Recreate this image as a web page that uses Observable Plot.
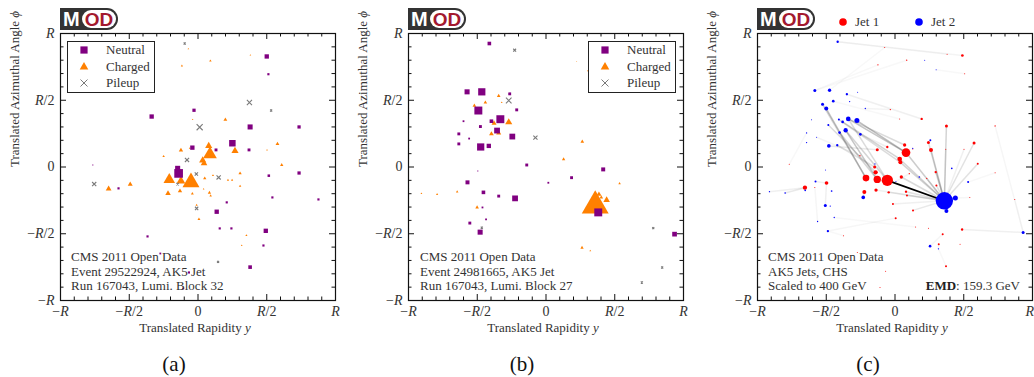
<!DOCTYPE html>
<html>
<head>
<meta charset="utf-8">
<script src="https://cdn.jsdelivr.net/npm/d3@7"></script>
<script src="https://cdn.jsdelivr.net/npm/@observablehq/plot@0.6"></script>
<style>
html,body{margin:0;padding:0;background:#fff}
#page{position:relative;width:1034px;height:377px;overflow:hidden;font-family:"Liberation Serif","Times New Roman",serif;color:#333}
.panel{position:absolute;top:0}
.logo{position:absolute;top:8px;width:58px;height:22px;background:#333;border-radius:0 11px 11px 0;font-family:"Liberation Sans",Arial,sans-serif;font-weight:bold;font-size:20px;line-height:22px}
.logo .m{position:absolute;left:3px;top:0;color:#fff}
.logo .od{position:absolute;left:22px;top:2px;width:34px;height:18px;border-radius:9px;background:#fff;color:#a3192f;font-size:19px;line-height:19px;text-align:center}
.note{position:absolute;font-size:13px;line-height:14.5px;white-space:nowrap;color:#333}
.cap{position:absolute;font-size:21px;top:352px;width:60px;text-align:center;color:#111}
.legbox{position:absolute;background:#fff;border:1.3px solid #222;box-sizing:border-box}
</style>
</head>
<body>
<div id="page"></div>
<script>
// ---------- axis ticks ----------
const tickValues = [-1, -0.5, 0, 0.5, 1];
const tickLabels = ["−R", "−R/2", "0", "R/2", "R"];
const minorTickValues = [-0.9,-0.8,-0.7,-0.6,-0.4,-0.3,-0.2,-0.1,0.1,0.2,0.3,0.4,0.6,0.7,0.8,0.9];
const xAxisLabel = "Translated Rapidity y";
const yAxisLabel = "Translated Azimuthal Angle ϕ";
const typeLabels = ["Neutral", "Charged", "Pileup"];
const jetLabels = ["Jet 1", "Jet 2"];

// ---------- panel (a): event 29522924 ----------
const aNeutralRap = [0.500,0.512,-0.337,-0.029,0.379,0.735,0.250,-0.041,0.131,0.371,-0.765,-0.148,-0.141,0.515,0.735,-0.578,0.541,0.876,0.209,0.136,0.158,0.243,0.493,-0.367,0.476,0.379,-0.066,-0.274,-0.107];
const aNeutralPhi = [0.828,0.695,0.378,0.425,0.300,0.300,0.178,0.145,0.128,0.128,0.015,-0.010,-0.048,-0.065,-0.045,-0.160,-0.228,-0.243,-0.265,-0.335,-0.460,-0.460,-0.478,-0.520,-0.588,-0.750,-0.790,-0.648,-0.910];
const aNeutralPt  = [12,6,12,9,14,9,18,12,8,8,3,14,24,7,9,6,6,6,6,12,6,6,12,6,6,10,6,5,5];

const aChargedRap = [-0.070,0.381,0.090,-0.117,-0.039,0.199,0.578,0.502,0.609,-0.124,-0.061,-0.250,0.078,0.087,0.269,0.034,0.044,-0.209,-0.124,-0.051,-0.650,-0.493,-0.218,-0.131,-0.041,0.049,0.109,0.218,0.248,0.306,0.306,0.041,0.083,0.092,-0.010,0.007,0.352,0.318];
const aChargedPhi = [0.885,0.838,0.795,0.758,0.355,0.355,0.173,0.128,0.015,0.125,0.140,0.080,0.158,0.095,0.120,0.050,0.028,-0.095,-0.105,-0.115,-0.163,-0.130,-0.198,-0.180,-0.200,-0.085,-0.063,-0.098,-0.098,-0.048,-0.143,-0.165,-0.193,-0.215,-0.285,-0.390,-0.513,-0.588];
const aChargedPt  = [3,3,4.5,4,3,7,7,3,6,8,3,4.5,13,25,13,13,12,21,16,31,10.5,9,10,8,5.3,6,4,4,4,6,4.5,3,6,4.5,4,5.3,4,3];

const aPileupRap = [-0.097,0.374,0.532,0.012,-0.080,0.150,-0.755,-0.012,-0.148,-0.010,0.146];
const aPileupPhi = [0.925,0.483,0.423,0.298,0.053,-0.078,-0.128,-0.053,-0.128,-0.310,-0.710];
const aPileupPt  = [5,12,5,14,10,10,10,8,6,8,5];

const aNotes = ["CMS 2011 Open Data", "Event 29522924, AK5 Jet", "Run 167043, Lumi. Block 32"];

// ---------- panel (b): event 24981665 ----------
const bNeutralRap = [-0.412,-0.574,-0.467,-0.264,-0.213,-0.492,-0.600,-0.397,-0.332,-0.477,-0.356,-0.634,-0.559,-0.245,-0.634,-0.475,-0.416,-0.140,-0.496,-0.571,0.017,0.186,0.416,-0.455,-0.344,-0.225,-0.462,-0.436,-0.554,-0.479,0.380,0.935];
const bNeutralPhi = [0.925,0.563,0.563,0.548,0.428,0.423,0.343,0.343,0.358,0.303,0.273,0.248,0.213,0.228,0.173,0.150,0.158,0.015,-0.030,-0.115,-0.118,-0.080,-0.018,-0.190,-0.218,-0.235,-0.303,-0.393,-0.420,-0.488,-0.340,-0.503];
const bNeutralPt  = [10,14,20,8,8,22,5,10,22,8,16,8,5,16,8,20,12,8,3,11,5,8,11,10,8,16,5,5,8,14,22,13];

const bChargedRap = [0.223,0.303,-0.344,-0.441,-0.521,-0.322,-0.271,-0.378,-0.397,-0.344,0.264,0.128,0.535,-0.906,-0.792,-0.646,-0.501,0.358,0.385,0.402,0.441,0.262,0.322];
const bChargedPhi = [0.788,0.720,0.533,0.483,0.460,0.483,0.335,0.328,0.248,0.255,0.190,0.058,-0.123,-0.198,-0.205,-0.185,-0.303,-0.290,-0.205,-0.228,-0.248,-0.605,-0.628];
const bChargedPt  = [2,2.5,6.6,6.6,6.6,3.3,13,9.2,8.6,9.2,6.6,6,4.6,3.3,4,4.6,6.6,49,9.2,6.6,11.8,6,3.3];

const bPileupRap = [-0.228,-0.271,-0.077,-0.467,0.780,0.845,0.697];
const bPileupPhi = [0.875,0.498,0.220,-0.455,-0.458,-0.753,-0.865];
const bPileupPt  = [7,13,10,5,5,5,5];

const bNotes = ["CMS 2011 Open Data", "Event 24981665, AK5 Jet", "Run 167043, Lumi. Block 27"];

// ---------- panel (c): two jets with EMD flows ----------
const jet1Rap = [0.490,-0.075,0.379,0.085,-0.124,0.507,-0.034,0.194,0.034,0.374,0.728,0.575,0.243,0.262,0.369,0.070,0.080,0.034,0.039,-0.129,-0.056,-0.255,0.129,0.502,0.602,-0.148,-0.141,-0.211,-0.129,-0.056,0.046,0.104,0.231,0.296,-0.655,-0.498,-0.583,-0.223,-0.138,-0.046,0.080,0.087,0.301,-0.015,0.005,0.131,0.150,0.243,0.488,0.347,0.318,0.473,0.371,0.728,0.544,0.871,-0.374,-0.274,-0.068,-0.109,-0.769];
const jet1Phi = [0.835,0.895,0.845,0.800,0.765,0.698,0.430,0.360,0.360,0.308,0.308,0.180,0.183,0.128,0.133,0.165,0.108,0.060,0.035,0.130,0.150,0.085,0.135,0.133,0.025,0.000,-0.040,-0.083,-0.093,-0.100,-0.075,-0.050,-0.085,-0.038,-0.155,-0.120,-0.153,-0.188,-0.173,-0.190,-0.185,-0.213,-0.138,-0.278,-0.383,-0.325,-0.450,-0.458,-0.468,-0.503,-0.578,-0.578,-0.743,-0.043,-0.228,-0.243,-0.515,-0.640,-0.780,-0.903,0.020];
const jet1Pt  = [8,3,3,4,4,3,4,7,3,9,4,9,9,12,3,10,26,14,12,9,7,4,3,3,6,9,13,20,22,34,10,4,4,7,13,11,3,12,10,7,7,6,6,6,6,6,3,3,7,6,6,3,6,3,3,3,3,3,3,3,3];

const jet2Rap = [-0.417,-0.583,-0.476,-0.350,-0.272,-0.449,-0.527,-0.500,-0.330,-0.216,-0.408,-0.381,-0.340,-0.277,-0.607,-0.485,-0.359,-0.403,-0.252,-0.643,-0.570,-0.643,-0.481,-0.420,0.257,0.129,-0.146,0.413,0.177,0.532,-0.578,-0.653,-0.799,-0.913,-0.461,-0.231,0.007,0.359,0.439,0.374,-0.507,-0.471,-0.442,-0.563,-0.488,0.255,0.316,0.932,0.299,0.216,-0.505];
const jet2Phi = [0.938,0.573,0.575,0.545,0.560,0.493,0.470,0.438,0.490,0.438,0.355,0.338,0.360,0.348,0.353,0.315,0.275,0.258,0.245,0.255,0.223,0.183,0.158,0.163,0.200,0.140,0.023,-0.010,-0.075,-0.113,-0.108,-0.175,-0.195,-0.185,-0.180,-0.228,-0.108,-0.253,-0.233,-0.330,-0.288,-0.293,-0.378,-0.408,-0.480,-0.593,-0.613,-0.490,0.728,0.800,-0.023];
const jet2Pt  = [7,9,10,7,3,8,9,12,4,4,6,8,14,15,3,6,13,8,8,4,3,4,11,7,6,4,4,5,5,6,6,5,5,4,5,11,3,52,15,12,9,4,4,4,7,8,4,9,3,3,3];

// EMD flows: particle number in jet 1 -> particle number in jet 2, transported weight
const flowFrom = [30,17,17,18,19,16,28,28,29,29,27,26,30,30,20,17,14,13,10,12,25,34,43,41,31,18,19,33,15,24,42,46,39,38,40,44,49,11,1,3,4,5,2,8,9,7,35,35,35,36,36,37,45,47,50,51,57,53,56,54,55,22,61,21,23,32,6];
const flowTo   = [38,14,13,12,11,13,8,7,17,18,16,24,17,13,23,38,38,38,38,38,38,38,38,38,38,38,38,38,38,38,38,38,38,36,38,38,48,48,1,1,2,2,3,4,6,10,33,34,32,31,41,44,45,43,46,47,45,47,48,30,39,21,20,19,26,37,49];
const flowWeight = [1,.45,.4,.3,.25,.25,.4,.3,.4,.3,.25,.2,.3,.25,.15,.35,.3,.25,.3,.2,.2,.3,.2,.2,.25,.3,.3,.15,.15,.1,.15,.15,.1,.15,.15,.1,.1,.06,.08,.05,.05,.05,.05,.1,.05,.08,.15,.1,.15,.1,.1,.06,.06,.05,.06,.06,.05,.05,.05,.05,.06,.08,.05,.12,.08,.08,.05];

const cNotes = ["CMS 2011 Open Data", "AK5 Jets, CHS", "Scaled to 400 GeV"];
const emdLabel = "EMD";
const emdValue = ": 159.3 GeV";

// ---------- helpers ----------
const rows = (xs, ys, ss) => xs.map((x, i) => ({x, y: ys[i], s: ss[i]}));
const page = document.getElementById("page");
const PURPLE = "#800080", ORANGE = "#ff8000", GREY = "#7a7a7a", RED = "#ff0000", BLUE = "#0000ff";
const FH = 267, FW = 275;

function axisMarks(pageEdgeRight) {
  const xIdx = tickValues.map((d, i) => i);
  const inner = pageEdgeRight ? xIdx.slice(0, -1) : xIdx;
  const marks = [
    Plot.frame({stroke: "#111", strokeWidth: 1.2}),
    Plot.ruleX(tickValues, {x: d => d, insetTop: FH - 6, stroke: "#111"}),
    Plot.ruleX(tickValues, {x: d => d, insetBottom: FH - 6, stroke: "#111"}),
    Plot.ruleX(minorTickValues, {x: d => d, insetTop: FH - 3.5, stroke: "#111"}),
    Plot.ruleX(minorTickValues, {x: d => d, insetBottom: FH - 3.5, stroke: "#111"}),
    Plot.ruleY(tickValues, {y: d => d, insetRight: FW - 6, stroke: "#111"}),
    Plot.ruleY(tickValues, {y: d => d, insetLeft: FW - 6, stroke: "#111"}),
    Plot.ruleY(minorTickValues, {y: d => d, insetRight: FW - 3.5, stroke: "#111"}),
    Plot.ruleY(minorTickValues, {y: d => d, insetLeft: FW - 3.5, stroke: "#111"}),
    Plot.text(inner, {x: i => tickValues[i], text: i => tickLabels[i], frameAnchor: "bottom", dy: 11, lineAnchor: "middle", fontSize: 14, fill: "#333"}),
    Plot.text(tickValues, {y: d => d, text: (d, i) => tickLabels[i], frameAnchor: "left", dx: -6, textAnchor: "end", fontSize: 14, fill: "#333"}),
    Plot.text([xAxisLabel], {text: d => d, frameAnchor: "bottom", dy: 27, dx: -3, lineAnchor: "middle", fontSize: 13, fill: "#333"}),
    Plot.text([yAxisLabel], {text: d => d, frameAnchor: "left", rotate: -90, dx: -46, lineAnchor: "middle", fontSize: 13, fill: "#333"})
  ];
  if (pageEdgeRight) {
    const last = xIdx.slice(-1);
    marks.push(Plot.text(last, {x: i => tickValues[i], text: i => tickLabels[i], frameAnchor: "bottom", dy: 11, dx: 1.5, textAnchor: "end", lineAnchor: "middle", fontSize: 14, fill: "#333"}));
  }
  return marks;
}

function mathify(svg) {
  const NS = "http://www.w3.org/2000/svg";
  const add = (t, s, it) => { const ts = document.createElementNS(NS, "tspan"); ts.textContent = s; if (it) ts.setAttribute("font-style", "italic"); t.appendChild(ts); };
  svg.querySelectorAll("text").forEach(t => {
    const s = t.textContent;
    const m = s.match(/^(−?)R(\/2)?$/);
    if (m) {
      t.textContent = "";
      if (m[1]) add(t, "−", false);
      add(t, "R", true);
      if (m[2]) add(t, "/2", false);
    } else if (s === xAxisLabel || s === yAxisLabel) {
      t.textContent = "";
      add(t, s.slice(0, -1), false);
      add(t, s.slice(-1), true);
    }
  });
}

function makePlot(width, marginRight, rDomain, rMax, marks, pageEdgeRight = false) {
  const svg = Plot.plot({
    width, height: 345,
    marginLeft: 60, marginRight, marginTop: 33, marginBottom: 45,
    x: {domain: [-1, 1], axis: null},
    y: {domain: [-1, 1], axis: null},
    r: {type: "linear", domain: rDomain, range: [0, rMax]},
    style: {fontFamily: "'Liberation Serif', serif", fontSize: "13px", background: "transparent", overflow: "visible"},
    marks: [...marks, ...axisMarks(pageEdgeRight)]
  });
  mathify(svg);
  return svg;
}

function place(el, left) { el.classList.add("panel"); el.style.left = left + "px"; page.appendChild(el); }

function logo(left) {
  const d = document.createElement("div");
  d.className = "logo"; d.style.left = left + "px";
  d.innerHTML = '<span class="m">M</span><span class="od">OD</span>';
  page.appendChild(d);
}

function notes(left, top, lines) {
  const d = document.createElement("div");
  d.className = "note"; d.style.left = left + "px"; d.style.top = top + "px";
  d.innerHTML = lines.join("<br>");
  page.appendChild(d);
}

function caption(center, text) {
  const d = document.createElement("div");
  d.className = "cap"; d.style.left = (center - 30) + "px"; d.textContent = text;
  page.appendChild(d);
}

function typeLegend(left) {
  const w = 88, h = 52;
  const box = document.createElement("div");
  box.className = "legbox";
  Object.assign(box.style, {left: left + "px", top: "41px", width: w + "px", height: h + "px"});
  const svg = d3.create("svg").attr("width", w).attr("height", h).style("position", "absolute").style("left", "-1px").style("top", "-1px");
  const rowsY = [9, 25.5, 42];
  svg.append("rect").attr("x", 17 - 3.6).attr("y", rowsY[0] - 3.6).attr("width", 7.2).attr("height", 7.2).attr("fill", PURPLE);
  svg.append("path").attr("d", `M17,${rowsY[1] - 4.6}L21.3,${rowsY[1] + 3}L12.7,${rowsY[1] + 3}Z`).attr("fill", ORANGE);
  svg.append("path").attr("d", `M13.5,${rowsY[2] - 3.5}L20.5,${rowsY[2] + 3.5}M20.5,${rowsY[2] - 3.5}L13.5,${rowsY[2] + 3.5}`).attr("stroke", GREY).attr("stroke-width", 1);
  typeLabels.forEach((t, i) => svg.append("text").attr("x", 39).attr("y", rowsY[i]).attr("dy", "0.34em")
    .attr("font-family", "'Liberation Serif', serif").attr("font-size", 13).attr("fill", "#333").text(t));
  box.appendChild(svg.node());
  page.appendChild(box);
}

function scatterMarks(neutral, charged, pileup) {
  return [
    Plot.dot(charged, {x: "x", y: "y", r: "s", symbol: "triangle", fill: ORANGE, sort: null}),
    Plot.dot(neutral, {x: "x", y: "y", r: "s", symbol: "square", fill: PURPLE, sort: null}),
    Plot.dot(pileup, {x: "x", y: "y", r: "s", symbol: "times", stroke: GREY, fill: "none", strokeWidth: 1.1, sort: null})
  ];
}

// ---------- panel (a) ----------
place(makePlot(345, 10, [0, 53], 10.8, scatterMarks(
  rows(aNeutralRap, aNeutralPhi, aNeutralPt),
  rows(aChargedRap, aChargedPhi, aChargedPt),
  rows(aPileupRap, aPileupPhi, aPileupPt))), 0);
logo(60);
typeLegend(67);
notes(71, 250, aNotes);
caption(174, "(a)");

// ---------- panel (b) ----------
place(makePlot(345, 10, [0, 53], 10.8, scatterMarks(
  rows(bNeutralRap, bNeutralPhi, bNeutralPt),
  rows(bChargedRap, bChargedPhi, bChargedPt),
  rows(bPileupRap, bPileupPhi, bPileupPt))), 348);
logo(408);
typeLegend(588);
notes(420, 250, bNotes);
caption(522, "(b)");

// ---------- panel (c) ----------
const jet1 = rows(jet1Rap, jet1Phi, jet1Pt);
const jet2 = rows(jet2Rap, jet2Phi, jet2Pt);
const flows = flowFrom.map((f, i) => ({a: jet1[f - 1], b: jet2[flowTo[i] - 1], w: flowWeight[i]}));
place(makePlot(339, 4, [0, 60], 10, [
  Plot.link(flows.filter(d => d.w < 1), {x1: d => d.a.x, y1: d => d.a.y, x2: d => d.b.x, y2: d => d.b.y, stroke: "#555", strokeOpacity: d => d.w * 0.85, strokeWidth: 1.5}),
  Plot.link(flows.filter(d => d.w >= 1), {x1: d => d.a.x, y1: d => d.a.y, x2: d => d.b.x, y2: d => d.b.y, stroke: "#000", strokeWidth: 1.8}),
  Plot.dot(jet1, {x: "x", y: "y", r: "s", fill: RED}),
  Plot.dot(jet2, {x: "x", y: "y", r: "s", fill: BLUE})
], true), 697);
logo(757);
notes(768, 250, cNotes);
{
  const d = document.createElement("div");
  d.className = "note"; d.style.right = "14px"; d.style.top = "279px";
  d.innerHTML = `<b style="color:#222">${emdLabel}</b>${emdValue}`;
  page.appendChild(d);
}
{
  const svg = d3.create("svg").attr("width", 160).attr("height", 20).style("position", "absolute").style("left", "835px").style("top", "12px");
  [[8, RED], [84, BLUE]].forEach(([cx, c], i) => {
    svg.append("circle").attr("cx", cx).attr("cy", 10).attr("r", 3.8).attr("fill", c);
    svg.append("text").attr("x", cx + 12).attr("y", 10).attr("dy", "0.34em").attr("font-family", "'Liberation Serif', serif")
      .attr("font-size", 13).attr("fill", "#333").text(jetLabels[i]);
  });
  page.appendChild(svg.node());
}
caption(868, "(c)");
</script>
</body>
</html>
